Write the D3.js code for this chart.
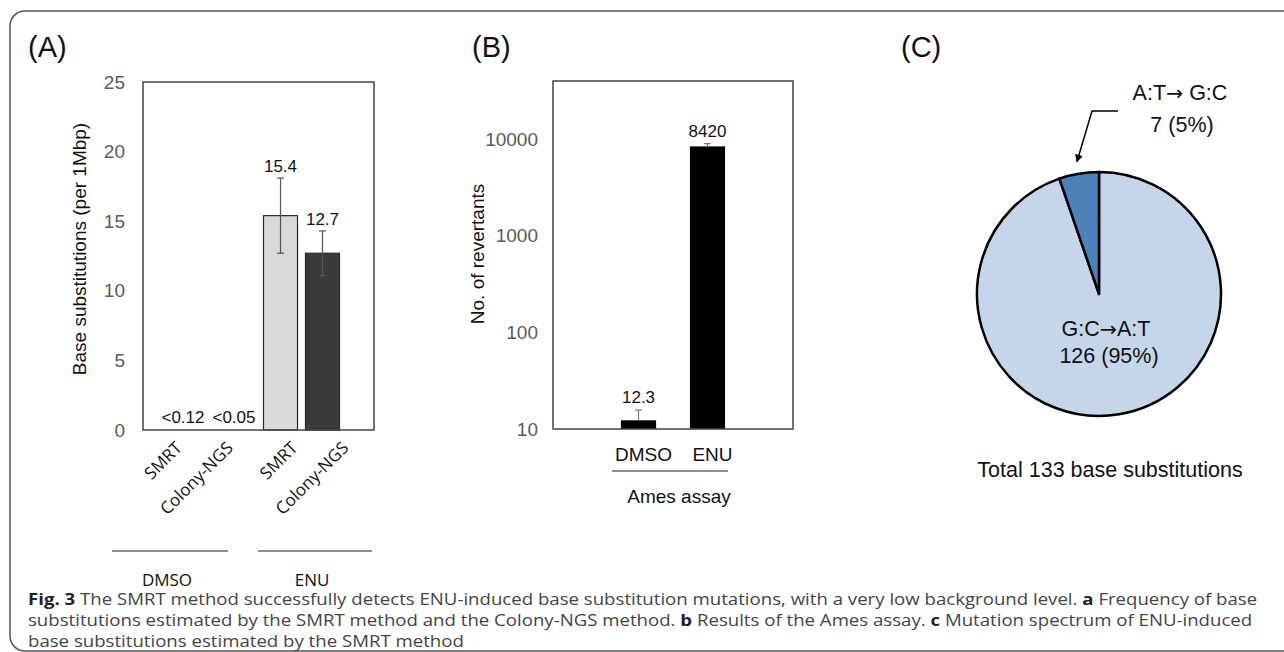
<!DOCTYPE html>
<html><head><meta charset="utf-8">
<script src="https://cdn.jsdelivr.net/npm/d3@7"></script>
<style>body{margin:0;background:#fff}svg{display:block}</style>
</head><body>
<svg id="c" width="1284" height="652"></svg>
<script>
// ---------- data ----------
// Panel A
const aGroups = ["DMSO", "ENU"];
const aMethods = ["SMRT", "Colony-NGS"];
const aValues = [[0, 0], [15.4, 12.7]];          // DMSO below detection limit
const aErrors = [[0, 0], [2.7, 1.6]];
const aLabels = [["<0.12", "<0.05"], ["15.4", "12.7"]];
const aTicks = [0, 5, 10, 15, 20, 25];
// Panel B
const bCats = ["DMSO", "ENU"];
const bValues = [12.3, 8420];
const bErrors = [3.4, 560];
const bLabels = ["12.3", "8420"];
const bTicks = [10, 100, 1000, 10000];
// Panel C
const cCats = ["G:C\u2192A:T", "A:T\u2192 G:C"];
const cValues = [126, 7];
const cPct = ["95%", "5%"];
// caption
const captionLines = [
  [["Fig. 3", true], [" The SMRT method successfully detects ENU-induced base substitution mutations, with a very low background level. ", false], ["a", true], [" Frequency of base", false]],
  [["substitutions estimated by the SMRT method and the Colony-NGS method. ", false], ["b", true], [" Results of the Ames assay. ", false], ["c", true], [" Mutation spectrum of ENU-induced", false]],
  [["base substitutions estimated by the SMRT method", false]]
];

const svg = d3.select("#c");
const SANS = "'Liberation Sans', Arial, Helvetica, sans-serif";
const CAP = "'Open Sans', 'Noto Sans', sans-serif";
const ARROWFONT = "'DejaVu Sans', sans-serif";

// text with the arrow glyph drawn in a font with a full-size arrow
function arrowText(sel, str) {
  const parts = str.split("\u2192");
  parts.forEach((p, i) => {
    if (i > 0) sel.append("tspan").attr("font-family", ARROWFONT).attr("font-size", "0.95em").text("\u2192");
    sel.append("tspan").text(p);
  });
  return sel;
}

// outer border
svg.append("rect").attr("x", 10).attr("y", 11).attr("width", 1300).attr("height", 640)
  .attr("rx", 15).attr("fill", "none").attr("stroke", "#555").attr("stroke-width", 1.5);

// panel letters
[["(A)", 28], ["(B)", 472], ["(C)", 901]].forEach(([t, x]) => {
  svg.append("text").attr("x", x).attr("y", 57).text(t)
    .attr("font-family", SANS).attr("font-size", 29).attr("fill", "#111");
});

// ================= Panel A =================
const A = {l: 143, r: 374, t: 82, b: 430};
const yA = d3.scaleLinear().domain([0, 25]).range([A.b, A.t]);
const xGroup = d3.scaleBand().domain(aGroups).range([128, 359]);
const xInner = d3.scaleBand().domain(aMethods).range([20, 96]).paddingInner(0.19);
const aFill = {"SMRT": "#d9d9d9", "Colony-NGS": "#3a3a3a"};
const labelOff = {"SMRT": 18, "Colony-NGS": 27};

const gA = svg.append("g");
gA.append("g").attr("transform", `translate(${A.l},0)`)
  .call(d3.axisLeft(yA).tickValues(aTicks).tickSize(0).tickPadding(18))
  .call(g => g.select(".domain").remove())
  .call(g => g.selectAll("text").attr("font-family", SANS).attr("font-size", 19).attr("fill", "#5a5a5a"));

const aData = [];
aGroups.forEach((g, gi) => aMethods.forEach((m, mi) => aData.push({
  g, m, v: aValues[gi][mi], e: aErrors[gi][mi], lab: aLabels[gi][mi]
})));
const cxA = d => xGroup(d.g) + xInner(d.m) + xInner.bandwidth() / 2;

gA.selectAll("rect.bar").data(aData.filter(d => d.v > 0)).join("rect")
  .attr("x", d => xGroup(d.g) + xInner(d.m)).attr("width", xInner.bandwidth())
  .attr("y", d => yA(d.v)).attr("height", d => yA(0) - yA(d.v))
  .attr("fill", d => aFill[d.m]).attr("stroke", "#2a2a2a").attr("stroke-width", 1.2);

// error bars
const eA = gA.selectAll("g.err").data(aData.filter(d => d.e > 0)).join("g").attr("stroke", "#555").attr("stroke-width", 1.2);
eA.append("line").attr("x1", cxA).attr("x2", cxA).attr("y1", d => yA(d.v + d.e)).attr("y2", d => yA(d.v - d.e));
eA.append("line").attr("x1", d => cxA(d) - 3.5).attr("x2", d => cxA(d) + 3.5).attr("y1", d => yA(d.v + d.e)).attr("y2", d => yA(d.v + d.e));
eA.append("line").attr("x1", d => cxA(d) - 3.5).attr("x2", d => cxA(d) + 3.5).attr("y1", d => yA(d.v - d.e)).attr("y2", d => yA(d.v - d.e));

// value labels
gA.selectAll("text.val").data(aData).join("text")
  .attr("x", d => d.v > 0 ? cxA(d) : cxA(d) + labelOff[d.m])
  .attr("y", d => d.v > 0 ? yA(d.v + d.e) - 6 : yA(0) - 7)
  .attr("text-anchor", "middle").attr("font-family", SANS).attr("font-size", 17).attr("fill", "#111")
  .text(d => d.lab);

// frame
gA.append("rect").attr("x", A.l).attr("y", A.t).attr("width", A.r - A.l).attr("height", A.b - A.t)
  .attr("fill", "none").attr("stroke", "#444").attr("stroke-width", 1.5);

// rotated category labels
gA.selectAll("text.cat").data(aData).join("text")
  .attr("transform", d => `translate(${cxA(d) + labelOff[d.m]},449) rotate(-45)`)
  .attr("text-anchor", "end").attr("font-family", CAP).attr("font-size", 17).attr("fill", "#111")
  .text(d => d.m);

// y title
gA.append("text").attr("transform", "translate(86,249) rotate(-90)").attr("text-anchor", "middle")
  .attr("font-family", SANS).attr("font-size", 19).attr("fill", "#111").text("Base substitutions (per 1Mbp)");

// ================= Panel B =================
const B = {l: 553, r: 793, t: 81, b: 429};
const yB = d3.scaleLog().domain([10, 40000]).range([B.b, B.t]);
const xB = d3.scaleBand().domain(bCats).range([B.l, B.r]).paddingInner(0.49).paddingOuter(0.985);
const gB = svg.append("g");
gB.append("g").attr("transform", `translate(${B.l},0)`)
  .call(d3.axisLeft(yB).tickValues(bTicks).tickFormat(d3.format("d")).tickSize(0).tickPadding(15))
  .call(g => g.select(".domain").remove())
  .call(g => g.selectAll("text").attr("font-family", SANS).attr("font-size", 19).attr("fill", "#5a5a5a"));

const bData = bCats.map((c, i) => ({c, v: bValues[i], e: bErrors[i], lab: bLabels[i]}));
const cxB = d => xB(d.c) + xB.bandwidth() / 2;
const eB = gB.selectAll("g.err").data(bData).join("g").attr("stroke", "#777").attr("stroke-width", 1.2);
eB.append("line").attr("x1", cxB).attr("x2", cxB).attr("y1", d => yB(d.v + d.e)).attr("y2", d => yB(d.v));
eB.append("line").attr("x1", d => cxB(d) - 3.5).attr("x2", d => cxB(d) + 3.5).attr("y1", d => yB(d.v + d.e)).attr("y2", d => yB(d.v + d.e));
gB.selectAll("rect.bar").data(bData).join("rect")
  .attr("x", d => xB(d.c)).attr("width", xB.bandwidth())
  .attr("y", d => yB(d.v)).attr("height", d => B.b - yB(d.v)).attr("fill", "#000");
gB.selectAll("text.val").data(bData).join("text")
  .attr("x", cxB).attr("y", d => yB(d.v + d.e) - 7).attr("text-anchor", "middle")
  .attr("font-family", SANS).attr("font-size", 17).attr("fill", "#111").text(d => d.lab);
gB.append("rect").attr("x", B.l).attr("y", B.t).attr("width", B.r - B.l).attr("height", B.b - B.t)
  .attr("fill", "none").attr("stroke", "#444").attr("stroke-width", 1.5);
gB.selectAll("text.cat").data(bData).join("text")
  .attr("x", d => cxB(d) + 5).attr("y", 461).attr("text-anchor", "middle")
  .attr("font-family", SANS).attr("font-size", 19).attr("fill", "#111").text(d => d.c);
gB.append("line").attr("x1", 612).attr("x2", 728).attr("y1", 471).attr("y2", 471).attr("stroke", "#222").attr("stroke-width", 1.2);
gB.append("text").attr("x", 679).attr("y", 503).attr("text-anchor", "middle")
  .attr("font-family", SANS).attr("font-size", 19).attr("fill", "#111").text("Ames assay");
gB.append("text").attr("transform", "translate(484,254) rotate(-90)").attr("text-anchor", "middle")
  .attr("font-family", SANS).attr("font-size", 19).attr("fill", "#111").text("No. of revertants");

// ================= Panel C =================
const C = {cx: 1099, cy: 294, r: 122};
const pie = d3.pie().sort(null).value(d => d)(cValues);
const arc = d3.arc().innerRadius(0).outerRadius(C.r);
const cFill = ["#c5d5ea", "#4f81b9"];
const gC = svg.append("g").attr("transform", `translate(${C.cx},${C.cy})`);
gC.selectAll("path").data(pie).join("path").attr("d", arc)
  .attr("fill", (d, i) => cFill[i]).attr("stroke", "#000").attr("stroke-width", 2.5).attr("stroke-linejoin", "round");
// big slice label
arrowText(gC.append("text").attr("x", 7).attr("y", 42).attr("text-anchor", "middle")
  .attr("font-family", SANS).attr("font-size", 21.5).attr("fill", "#111"), cCats[0]);
gC.append("text").attr("x", 10).attr("y", 69).attr("text-anchor", "middle")
  .attr("font-family", SANS).attr("font-size", 21.5).attr("fill", "#111").text(`${cValues[0]} (${cPct[0]})`);
// small slice callout
arrowText(svg.append("text").attr("x", 1180).attr("y", 100).attr("text-anchor", "middle")
  .attr("font-family", SANS).attr("font-size", 21.5).attr("fill", "#111"), cCats[1]);
svg.append("text").attr("x", 1182).attr("y", 132).attr("text-anchor", "middle")
  .attr("font-family", SANS).attr("font-size", 21.5).attr("fill", "#111").text(`${cValues[1]} (${cPct[1]})`);
const sm = pie[1];
const midA = (sm.startAngle + sm.endAngle) / 2;
const tip = [C.cx + (C.r + 12) * Math.sin(midA), C.cy - (C.r + 12) * Math.cos(midA)];
svg.append("defs").append("marker").attr("id", "ah").attr("viewBox", "0 0 10 10").attr("refX", 9).attr("refY", 5)
  .attr("markerWidth", 8).attr("markerHeight", 8).attr("orient", "auto-start-reverse").attr("markerUnits", "userSpaceOnUse")
  .append("path").attr("d", "M0,0 L10,5 L0,10 z").attr("fill", "#000");
svg.append("path").attr("d", d3.line()([[1118, 111], [1092, 111], tip]))
  .attr("fill", "none").attr("stroke", "#000").attr("stroke-width", 1.5).attr("marker-end", "url(#ah)");
svg.append("text").attr("x", 1110).attr("y", 477).attr("text-anchor", "middle")
  .attr("font-family", SANS).attr("font-size", 21.5).attr("fill", "#111").text(`Total ${d3.sum(cValues)} base substitutions`);

// ================= group labels A and caption (condensed via scale) =================
const capG = svg.append("g");
const capSize = 15.5;
const lineY = [605, 626, 647];
const capTexts = captionLines.map((parts, i) => {
  const t = capG.append("text").attr("x", 0).attr("y", lineY[i])
    .attr("font-family", CAP).attr("font-size", capSize).attr("fill", "#444");
  parts.forEach(([s, b]) => t.append("tspan").text(s).attr("font-weight", b ? 700 : 400).attr("fill", b ? "#222" : "#444"));
  return t;
});
const w0 = capTexts[0].node().getComputedTextLength();
const sx = (1258 - 28) / w0;
capTexts.forEach(t => t.attr("transform", `translate(28,0) scale(${sx},1)`));

// group underlines and labels for panel A
const aGroupSpan = {"DMSO": [112, 228], "ENU": [258, 372]};
aGroups.forEach(g => {
  const [x1, x2] = aGroupSpan[g];
  svg.append("line").attr("x1", x1).attr("x2", x2).attr("y1", 551).attr("y2", 551).attr("stroke", "#222").attr("stroke-width", 1.2);
  svg.append("text").attr("transform", `translate(${(x1 + x2) / 2 - 3},586)`)
    .attr("text-anchor", "middle").attr("font-family", CAP).attr("font-size", 17).attr("fill", "#111").text(g);
});
</script>
</body></html>
